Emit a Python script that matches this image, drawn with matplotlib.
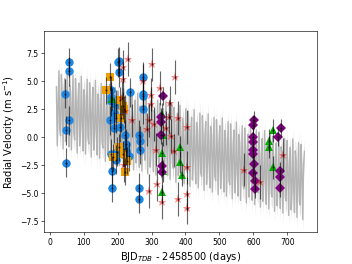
import numpy as np
import matplotlib
matplotlib.use("Agg")
import matplotlib.pyplot as plt

# ---- data ----
blue_t = [56, 56, 46, 49, 57, 47, 182, 180, 180, 178, 182, 185, 184, 200, 203, 205, 196,
          191, 194, 191, 206, 198, 195, 221, 224, 224, 233, 237, 275, 275, 275, 275,
          263, 265, 265, 262, 262]
blue_rv = [6.7, 5.9, 3.9, 0.6, 1.5, -2.3, 4.2, 3.6, 3.2, 1.5, -1.5, -3.0, -4.5, 6.7, 6.8,
           5.8, 2.9, 2.2, 1.7, 0.8, 0.9, -1.3, -2.0, 0.2, -0.6, -1.2, -1.7, 4.0, 5.4,
           3.9, 3.7, 2.5, 0.2, -0.3, -1.1, -4.5, -5.5]
blue_err = 1.3

orange_t = [178, 166, 206, 216, 219, 210, 204, 216, 229, 221, 186]
orange_rv = [5.4, 4.2, 3.3, 2.8, 2.5, 1.7, -0.9, -1.5, -2.1, -3.1, -1.8]
orange_err = 1.2

green_t = [184, 331, 335, 330, 333, 330, 383, 384, 390, 647, 647, 657, 657]
green_rv = [3.4, 2.1, 0.2, -1.4, -3.0, -4.9, -0.9, -2.2, -3.4, -0.3, -0.9, 0.6, -2.7]
green_err = 1.0

purple_t = [333, 327, 328, 327, 330, 330, 598, 603, 598, 598, 600, 598, 603, 598, 606,
            606, 681, 672, 678, 678, 679]
purple_rv = [3.7, 1.8, 1.4, 0.2, -2.6, -3.1, 1.1, 1.5, 0.0, -0.4, -1.1, -1.5, -2.4,
             -3.2, -3.9, -4.6, 0.8, 0.0, -3.0, -3.6, -4.5]
purple_err = 0.8

red_t = [232, 215, 215, 300, 275, 370, 325, 298, 297, 353, 243, 222, 212, 352, 378, 292,
         306, 288, 342, 357, 403, 312, 367, 316, 294, 330, 378, 405, 405, 404, 218, 571,
         618, 687]
red_rv = [7.0, 6.3, 5.2, 6.5, 5.0, 5.4, 4.4, 3.8, 3.0, 3.1, 1.5, 2.3, 3.5, 1.8, 1.7, 1.5,
          1.2, 0.7, 0.8, 0.1, 0.9, -1.1, -1.2, -4.2, -4.8, -5.8, -5.5, -5.1, -6.3, -2.7,
          -2.5, -2.9, -4.0, -1.6]
red_err = 1.5

# model parameters
model_start, model_end = 20, 750
model_offset = 2.8      # trend value at t = 0
model_slope = -0.009    # m/s per day
model_amp = 3.5
model_period = 8.3
model_sigma = 1.0
model_npts = 300

fig, ax = plt.subplots(figsize=(6.4, 4.8), dpi=55)
fig.subplots_adjust(bottom=0.12, top=0.883)

t = np.linspace(model_start, model_end, model_npts)
trend = model_offset + model_slope * t
m = trend + model_amp * np.sin(2 * np.pi * t / model_period)
ax.fill_between(t, m - model_sigma, m + model_sigma, color='#d8d8d8', lw=0, zorder=1)
ax.plot(t, m, color='#b4b4b4', lw=1.8, zorder=1)

def inst(tt, rv, err, marker, color, ms, alpha=1.0):
    ax.plot(tt, rv, marker, color=color, ms=ms, alpha=alpha, zorder=2, mew=0)
    ax.errorbar(tt, rv, yerr=err, fmt='.k', ms=3, ecolor='k', alpha=0.6, elinewidth=1.5,
                zorder=3)

inst(blue_t, blue_rv, blue_err, 'o', '#1E88E5', 11)
inst(orange_t, orange_rv, orange_err, 's', '#F0A000', 10)
inst(green_t, green_rv, green_err, '^', '#00B000', 10)
inst(purple_t, purple_rv, purple_err, 'D', '#800080', 9)
inst(red_t, red_rv, red_err, '*', 'red', 12, alpha=0.45)

ax.set_xlabel('BJD$_{TDB}$ - 2458500 (days)', fontsize=13)
ax.set_ylabel('Radial Velocity (m s$^{-1}$)', fontsize=13)
ax.set_xticks([0, 100, 200, 300, 400, 500, 600, 700])
ax.set_yticks([-7.5, -5.0, -2.5, 0.0, 2.5, 5.0, 7.5])
ax.set_ylim(-8.5, 9.5)

fig.savefig('out.png', dpi=55)
